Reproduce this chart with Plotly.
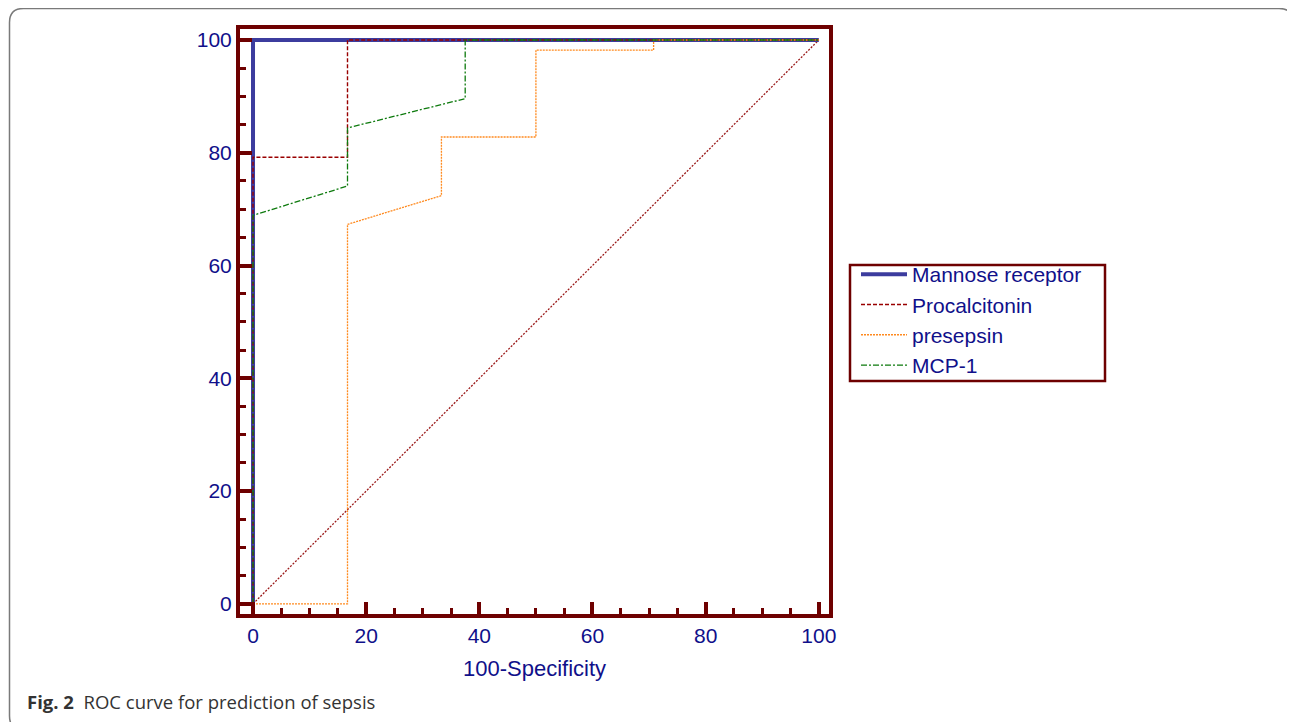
import plotly.graph_objects as go

# ---- data ----
mannose_x = [0, 0, 100]
mannose_y = [0, 100, 100]
pct_x = [0, 0, 16.7, 16.7, 100]
pct_y = [0, 79.2, 79.2, 100, 100]
presepsin_x = [0, 16.7, 16.7, 33.3, 33.3, 50, 50, 70.8, 70.8, 100]
presepsin_y = [0, 0, 67.3, 72.4, 82.8, 82.8, 98.2, 98.2, 100, 100]
mcp_x = [0, 0, 16.7, 16.7, 37.5, 37.5, 100]
mcp_y = [0, 68.9, 74.1, 84.4, 89.6, 100, 100]
diag_x = [0, 100]
diag_y = [0, 100]
x_ticks = [0, 20, 40, 60, 80, 100]
y_ticks = [0, 20, 40, 60, 80, 100]

MAROON = "#6e0000"
NAVY = "#10108a"

# page offset (body margin) and plot area in screen pixels
OFF = 8
L, R, T, B = 240, 829, 29, 614
W, H = 1295 - OFF, 722 - OFF


def px(xp):
    return (xp - L) / (R - L)


def py(yp):
    return (B - yp) / (B - T)


fig = go.Figure()
fig.add_trace(go.Scatter(x=diag_x, y=diag_y, mode="lines", showlegend=False,
                         line=dict(color="#9b1a1a", width=1.3, dash="2px,1.5px"), hoverinfo="skip"))
fig.add_trace(go.Scatter(x=mannose_x, y=mannose_y, mode="lines", name="Mannose receptor",
                         line=dict(color="#3c3c9e", width=4)))
fig.add_trace(go.Scatter(x=pct_x, y=pct_y, mode="lines", name="Procalcitonin",
                         line=dict(color="#990000", width=1.4, dash="4px,2px")))
fig.add_trace(go.Scatter(x=presepsin_x, y=presepsin_y, mode="lines", name="presepsin",
                         line=dict(color="#ff8a1f", width=1.3, dash="2px,1px")))
fig.add_trace(go.Scatter(x=mcp_x, y=mcp_y, mode="lines", name="MCP-1",
                         line=dict(color="#0d7a0d", width=1.3, dash="6px,2px,2px,2px")))

axis_common = dict(
    showline=True, linecolor=MAROON, linewidth=4, mirror=True,
    showgrid=False, zeroline=False,
    ticks="inside", ticklen=12, tickwidth=4, tickcolor=MAROON,
    tickfont=dict(family="Liberation Sans, Arial", size=21, color=NAVY),
    minor=dict(dtick=5, ticks="inside", ticklen=6, tickwidth=3, tickcolor=MAROON, showgrid=False),
)

fig.update_xaxes(range=[-2.3, 101.8], tickvals=x_ticks, **axis_common,
                 title=dict(text="100-Specificity", standoff=15,
                            font=dict(family="Liberation Sans, Arial", size=22, color=NAVY)))
fig.update_yaxes(range=[-1.8, 101.95], tickvals=y_ticks, **axis_common)

# rounded outer border
x0, x1, y0, y1, r = 9.5, 1293, 8.5, 730, 14
path = (f"M {px(x0 + r)},{py(y0)} L {px(x1 - r)},{py(y0)} "
        f"Q {px(x1)},{py(y0)} {px(x1)},{py(y0 + r)} L {px(x1)},{py(y1 - r)} "
        f"Q {px(x1)},{py(y1)} {px(x1 - r)},{py(y1)} L {px(x0 + r)},{py(y1)} "
        f"Q {px(x0)},{py(y1)} {px(x0)},{py(y1 - r)} L {px(x0)},{py(y0 + r)} "
        f"Q {px(x0)},{py(y0)} {px(x0 + r)},{py(y0)} Z")
fig.add_shape(type="path", path=path, xref="paper", yref="paper",
              line=dict(color="#7a7a7a", width=1.5), layer="below")

# legend frame
fig.add_shape(type="rect", xref="paper", yref="paper",
              x0=px(850), x1=px(1105), y0=py(381), y1=py(265),
              line=dict(color=MAROON, width=2.5), fillcolor="white", layer="below")

fig.add_annotation(text="<b>Fig. 2</b>  ROC curve for prediction of sepsis",
                   xref="paper", yref="paper", x=px(25), y=py(701),
                   xanchor="left", yanchor="middle", showarrow=False,
                   font=dict(family="Open Sans", size=18.5, color="#333333"))

fig.update_layout(
    width=W, height=H,
    margin=dict(l=L - OFF, r=W - (R - OFF), t=T - OFF, b=H - (B - OFF), autoexpand=False),
    paper_bgcolor="white", plot_bgcolor="white",
    legend=dict(x=px(856), y=py(254), xanchor="left", yanchor="top",
                borderwidth=0, bgcolor="rgba(0,0,0,0)",
                font=dict(family="Liberation Sans, Arial", size=21, color=NAVY),
                tracegroupgap=0, itemwidth=46),
)

fig.write_html("out.html")
